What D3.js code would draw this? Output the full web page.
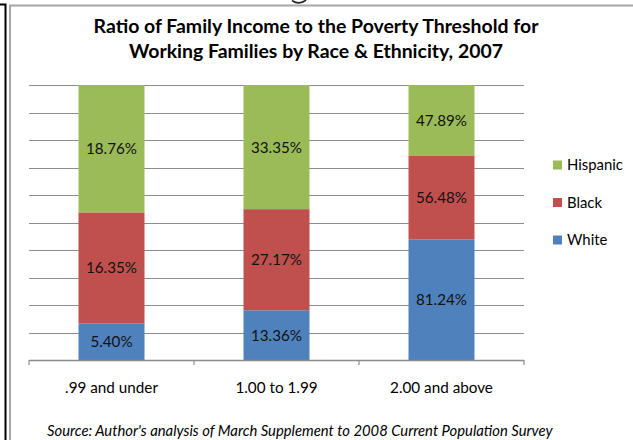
<!DOCTYPE html>
<html>
<head>
<meta charset="utf-8">
<script src="https://cdn.jsdelivr.net/npm/d3@7"></script>
<style>
  html, body { margin: 0; padding: 0; background: #fff; }
  svg { display: block; }
</style>
</head>
<body>
<svg id="chart" width="633" height="440"></svg>
<script>
// Income-to-poverty ratio groups and the share of each group by race/ethnicity
const categories = [".99 and under", "1.00 to 1.99", "2.00 and above"];
const seriesNames = ["White", "Black", "Hispanic"];
const white = [5.40, 13.36, 81.24];
const black = [16.35, 27.17, 56.48];
const hispanic = [18.76, 33.35, 47.89];
const titleLines = [
  "Ratio of Family Income to the Poverty Threshold for",
  "Working Families by Race & Ethnicity, 2007"
];
const sourceNote = "Source: Author's analysis of March Supplement to 2008 Current Population Survey";

const colors = { White: "#4F81BD", Black: "#C0504D", Hispanic: "#9BBB59" };
const FONT = "Lato, 'Open Sans', sans-serif";

const svg = d3.select("#chart");

// Font size that makes a string span a given width
function fitSize(str, target, weight = "normal", style = "normal") {
  const base = 20;
  const t = svg.append("text")
    .attr("font-family", FONT).attr("font-weight", weight)
    .attr("font-style", style).attr("font-size", base).text(str);
  const w = t.node().getComputedTextLength();
  t.remove();
  return base * target / w;
}

// Page frame around the chart
const frame = svg.append("g");
frame.append("path")
  .attr("d", "M0,4.5 H5.5 V440")
  .attr("fill", "none").attr("stroke", "#000").attr("stroke-width", 2);
frame.append("path")
  .attr("d", "M10,440 V5.5 H633")
  .attr("fill", "none").attr("stroke", "#a6a6a6").attr("stroke-width", 2);
// tail of the page heading peeking in above the frame
frame.append("path")
  .attr("d", "M292,0.5 Q299,5.5 306,0")
  .attr("fill", "none").attr("stroke", "#222").attr("stroke-width", 1.6);

// Data rows for the stack
const rows = categories.map((c, i) => ({
  category: c, White: white[i], Black: black[i], Hispanic: hispanic[i]
}));
const stacked = d3.stack().keys(seriesNames).offset(d3.stackOffsetExpand)(rows);

const plot = { left: 29, right: 524, top: 85, bottom: 360 };

const x = d3.scaleBand()
  .domain(categories)
  .range([plot.left, plot.right])
  .paddingInner(0.6).paddingOuter(0.3);
const xAxisScale = d3.scaleBand().domain(categories).range([plot.left, plot.right]);
const y = d3.scaleLinear().domain([0, 1]).range([plot.bottom, plot.top]);

// Horizontal gridlines every 10%
svg.append("g")
  .selectAll("line")
  .data(y.ticks(10).filter(d => d > 0))
  .join("line")
  .attr("x1", plot.left).attr("x2", plot.right)
  .attr("y1", d => Math.round(y(d)) + 0.5).attr("y2", d => Math.round(y(d)) + 0.5)
  .attr("stroke", "#8c8c8c").attr("stroke-width", 1.2);

// Stacked segments
const layers = svg.append("g")
  .selectAll("g")
  .data(stacked)
  .join("g")
  .attr("fill", d => colors[d.key]);

layers.selectAll("rect")
  .data(d => d.map(p => ({ p, key: d.key })))
  .join("rect")
  .attr("x", d => x(d.p.data.category))
  .attr("width", x.bandwidth())
  .attr("y", d => y(d.p[1]))
  .attr("height", d => y(d.p[0]) - y(d.p[1]));

// Value labels centred in each segment
const labelSize = fitSize("18.76%", 51);
layers.selectAll("text")
  .data(d => d.map(p => ({ p, key: d.key })))
  .join("text")
  .attr("x", d => x(d.p.data.category) + x.bandwidth() / 2)
  .attr("y", d => (y(d.p[0]) + y(d.p[1])) / 2)
  .attr("dy", "0.36em")
  .attr("text-anchor", "middle")
  .attr("font-family", FONT)
  .attr("font-size", labelSize)
  .attr("fill", "#111")
  .text(d => d.p.data[d.key].toFixed(2) + "%");

// Category axis
const axis = svg.append("g").attr("transform", `translate(0,${plot.bottom})`);
axis.append("line")
  .attr("x1", plot.left).attr("x2", plot.right)
  .attr("y1", 0.5).attr("y2", 0.5)
  .attr("stroke", "#8c8c8c").attr("stroke-width", 1.5);
const tickPos = categories.map(c => xAxisScale(c)).concat([plot.right]);
axis.selectAll("line.tick")
  .data(tickPos)
  .join("line")
  .attr("class", "tick")
  .attr("x1", d => d).attr("x2", d => d)
  .attr("y1", 0).attr("y2", 5)
  .attr("stroke", "#8c8c8c").attr("stroke-width", 1.2);
const catSize = fitSize(".99 and under", 93);
axis.selectAll("text")
  .data(categories)
  .join("text")
  .attr("x", d => xAxisScale(d) + xAxisScale.bandwidth() / 2)
  .attr("y", 33)
  .attr("text-anchor", "middle")
  .attr("font-family", FONT)
  .attr("font-size", catSize)
  .attr("fill", "#000")
  .text(d => d);

// Title
const titleSize = fitSize(titleLines[0], 445, "bold");
svg.append("g")
  .selectAll("text")
  .data(titleLines)
  .join("text")
  .attr("x", 316)
  .attr("y", (d, i) => 33 + i * 25)
  .attr("text-anchor", "middle")
  .attr("font-family", FONT)
  .attr("font-weight", "bold")
  .attr("font-size", titleSize)
  .attr("fill", "#000")
  .text(d => d);

// Legend, top entry first
const legendKeys = seriesNames.slice().reverse();
const legend = svg.append("g")
  .selectAll("g")
  .data(legendKeys)
  .join("g")
  .attr("transform", (d, i) => `translate(553,${165 + i * 37.5})`);
legend.append("rect")
  .attr("x", 0).attr("y", -4.5)
  .attr("width", 9).attr("height", 9)
  .attr("fill", d => colors[d]);
legend.append("text")
  .attr("x", 14).attr("y", 0).attr("dy", "0.36em")
  .attr("font-family", FONT)
  .attr("font-size", fitSize("Hispanic", 56))
  .attr("fill", "#000")
  .text(d => d);

// Source note
svg.append("text")
  .attr("x", 47).attr("y", 435.5)
  .attr("font-family", FONT)
  .attr("font-style", "italic")
  .attr("font-size", fitSize(sourceNote, 506, "normal", "italic"))
  .attr("fill", "#000")
  .text(sourceNote);
</script>
</body>
</html>
